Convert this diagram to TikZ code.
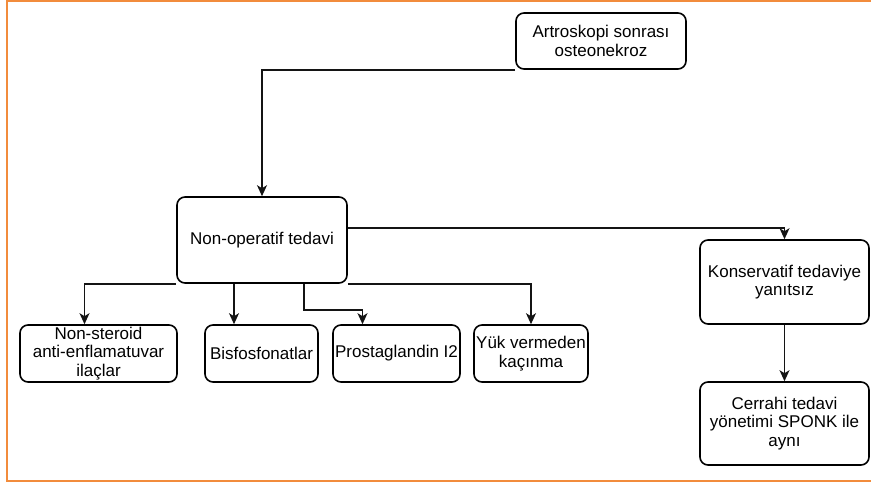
\documentclass[tikz,border=0pt]{standalone}
\usepackage{fontspec}
\setmainfont{Liberation Sans}
\usetikzlibrary{arrows.meta, positioning, calc}
\definecolor{frameorange}{RGB}{242,140,60}
\definecolor{linegray}{RGB}{20,20,20}

\begin{document}
\begin{tikzpicture}[x=1pt, y=-1pt, ->, >={Stealth[length=11pt,width=10pt,inset=3pt]},
  line width=1.4pt, draw=linegray,
  every node/.style = {shape=rectangle, align=center, inner sep=2pt,
    font=\fontsize{17}{18.5}\selectfont},
  box/.style = {draw=black, rounded corners=8pt, line width=1.6pt}]
  \useasboundingbox (0,0) rectangle (871,483);
  % frame
  \draw[-, frameorange, line width=2pt] (871,1) -- (7,1) -- (7,481) -- (871,481);
  % nodes
  \node[box, minimum width=170, minimum height=56] (artro) at (601,41) {Artroskopi sonrası\\osteonekroz};
  \node[box, minimum width=170, minimum height=86] (nonop) at (262,240) {Non-operatif tedavi};
  \node[box, minimum width=157, minimum height=57] (nsaid) at (98.5,353.5) {Non-steroid\\anti-enflamatuvar\\ilaçlar};
  \node[box, minimum width=113, minimum height=57] (bisf) at (261.5,353.5) {Bisfosfonatlar};
  \node[box, minimum width=127, minimum height=57] (prost) at (396.5,353.5) {Prostaglandin I2};
  \node[box, minimum width=114, minimum height=57] (yuk) at (531,353.5) {Yük vermeden\\kaçınma};
  \node[box, minimum width=169, minimum height=84] (kons) at (784.5,282) {Konservatif tedaviye\\yanıtsız};
  \node[box, minimum width=169, minimum height=83] (cerr) at (784.5,423.5) {Cerrahi tedavi\\yönetimi SPONK ile\\aynı};
  % connectors
  \draw (artro.south west) -| (nonop.north);
  \draw ([yshift=12pt]nonop.east) -| (kons.north);
  \draw (kons) -- (cerr);
  \draw (nonop.south west) -| ([xshift=-14pt]nsaid.north);
  \draw ([xshift=-28pt]nonop.south) -- ([xshift=-28pt]nonop.south |- bisf.north);
  \draw ([xshift=42pt]nonop.south) -- ++(0,26) -| ([xshift=-34pt]prost.north);
  \draw (nonop.south east) -| (yuk.north);
\end{tikzpicture}
\end{document}
